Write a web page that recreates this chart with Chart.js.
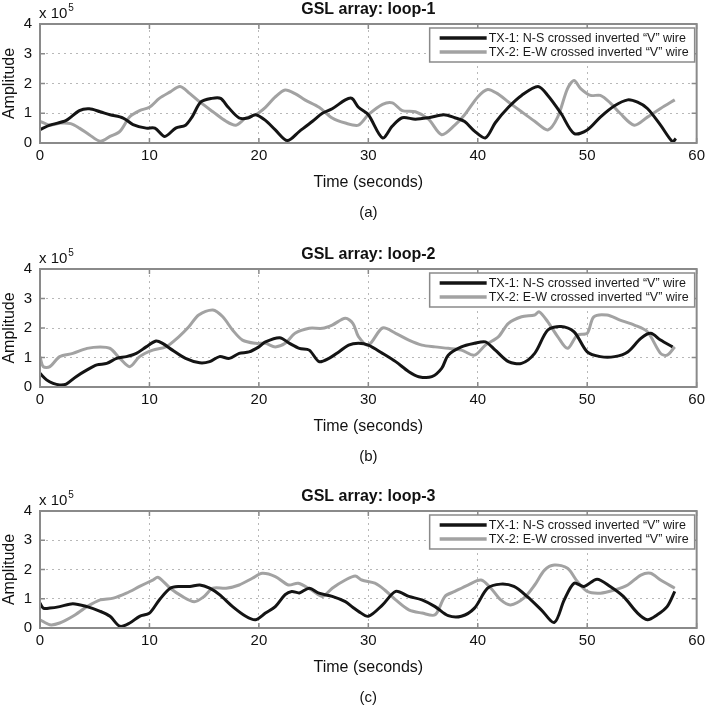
<!DOCTYPE html>
<html>
<head>
<meta charset="utf-8">
<script src="https://cdn.jsdelivr.net/npm/chart.js@4.4.0/dist/chart.umd.min.js"></script>
<style>
  html, body { margin: 0; padding: 0; background: #fff; overflow: hidden; }
  canvas { position: absolute; left: 0; }
</style>
</head>
<body>
<canvas id="loop1" width="709" height="235" style="top:0px"></canvas>
<canvas id="loop2" width="709" height="235" style="top:245px"></canvas>
<canvas id="loop3" width="709" height="219" style="top:487px"></canvas>
<script>
// Data (amplitude in units of 10^5, time in seconds)
const seriesNames = ['TX-1: N-S crossed inverted \u201cV\u201d wire', 'TX-2: E-W crossed inverted \u201cV\u201d wire'];
const xTicks = [0, 10, 20, 30, 40, 50, 60];
const yTicks = [0, 1, 2, 3, 4];

// loop-1
const loop1Tx1Time = [0, 0.9, 2.4, 3.6, 4.5, 5.5, 6.4, 7.6, 8.5, 9.7, 10.5, 11.4, 12.4, 13.3, 13.9, 14.7, 15.7, 16.5, 17.2, 18.2, 19, 19.7, 20.6, 21.5, 22.6, 23.7, 24.9, 25.8, 26.7, 27.9, 28.5, 29.1, 30, 31.3, 32.2, 33.1, 34.3, 35.5, 36.9, 37.9, 38.8, 39.7, 40.7, 41.6, 42.8, 44, 45.5, 46.4, 47.6, 48.8, 50, 51.2, 52.5, 53.7, 54.6, 55.5, 56.7, 57.8, 58.1];
const loop1Tx1 = [0.45, 0.6, 0.76, 1.09, 1.15, 1.05, 0.95, 0.84, 0.62, 0.5, 0.5, 0.22, 0.5, 0.6, 0.88, 1.38, 1.5, 1.5, 1.2, 0.84, 0.84, 0.95, 0.76, 0.44, 0.08, 0.39, 0.73, 1.0, 1.15, 1.45, 1.5, 1.2, 0.95, 0.17, 0.57, 0.85, 0.8, 0.85, 0.95, 0.85, 0.72, 0.4, 0.17, 0.68, 1.2, 1.6, 1.9, 1.6, 1.0, 0.32, 0.44, 0.87, 1.25, 1.45, 1.37, 1.16, 0.6, 0.04, 0.15];
const loop1Tx2Time = [0, 0.9, 1.9, 2.8, 3.6, 4.5, 5.5, 6.4, 7.3, 8.2, 9.1, 10, 10.9, 11.9, 12.8, 13.7, 14.6, 15.8, 17, 17.9, 18.8, 19.7, 20.6, 21.5, 22.4, 23.3, 24.2, 25.5, 26.7, 27.9, 29.1, 30, 31.3, 32.2, 33.1, 34.3, 35.5, 36.7, 37.9, 38.8, 40, 40.9, 41.8, 42.8, 44, 45.2, 46.4, 47.3, 48.2, 48.8, 49.4, 50.3, 51.2, 52.1, 53, 54.3, 55.5, 56.7, 58];
const loop1Tx2 = [0.73, 0.6, 0.67, 0.65, 0.5, 0.28, 0.06, 0.22, 0.39, 0.88, 1.09, 1.2, 1.5, 1.72, 1.9, 1.66, 1.38, 1.05, 0.73, 0.6, 0.84, 0.95, 1.2, 1.55, 1.78, 1.66, 1.45, 1.2, 0.84, 0.67, 0.6, 0.95, 1.3, 1.35, 1.09, 1.05, 0.8, 0.28, 0.6, 0.95, 1.55, 1.8, 1.66, 1.38, 1.05, 0.73, 0.44, 0.87, 1.83, 2.1, 1.83, 1.6, 1.6, 1.35, 1.0, 0.6, 0.87, 1.16, 1.45];

// loop-2
const loop2Tx1Time = [0, 0.6, 1.2, 1.8, 2.4, 3.3, 4.3, 5.2, 6.1, 7, 7.9, 8.8, 9.7, 10.6, 11.2, 12.1, 13.3, 14.6, 15.5, 16.4, 17.3, 18.2, 19.1, 20, 20.6, 21.9, 22.8, 23.7, 24.6, 25.5, 26.4, 27.3, 28.2, 29.1, 30, 31.3, 32.5, 33.7, 34.6, 35.8, 36.7, 37.3, 38.5, 39.7, 40.7, 41.6, 42.8, 44, 45.2, 46.4, 47.6, 48.8, 50, 51.2, 52.5, 53.7, 54.9, 55.8, 56.7, 57.8];
const loop2Tx1 = [0.46, 0.24, 0.12, 0.07, 0.1, 0.35, 0.58, 0.75, 0.8, 0.97, 1.03, 1.14, 1.36, 1.56, 1.48, 1.25, 0.97, 0.82, 0.86, 1.03, 0.97, 1.14, 1.19, 1.36, 1.53, 1.67, 1.48, 1.31, 1.25, 0.86, 0.97, 1.19, 1.42, 1.48, 1.42, 1.14, 0.86, 0.52, 0.35, 0.35, 0.63, 1.08, 1.36, 1.48, 1.53, 1.25, 0.86, 0.8, 1.14, 1.93, 2.05, 1.87, 1.19, 1.03, 1.03, 1.19, 1.65, 1.82, 1.59, 1.36];
const loop2Tx2Time = [0, 0.3, 0.9, 1.8, 3, 4.3, 5.5, 6.4, 7.3, 8.2, 9.1, 10.3, 11.5, 12.7, 13.6, 14.5, 15.8, 16.7, 17.6, 18.5, 19.7, 20.6, 21.5, 22.4, 23.3, 24.6, 25.8, 26.7, 27.9, 28.6, 29.1, 30, 31.3, 32.5, 33.7, 34.9, 36.1, 37.3, 38.5, 39.7, 40.7, 41.9, 42.8, 44, 45.2, 45.6, 46.4, 47.3, 48.2, 49.1, 50, 50.6, 51.8, 53, 54.3, 55.5, 56.7, 57.3, 58];
const loop2Tx2 = [1.03, 0.69, 0.69, 1.03, 1.14, 1.31, 1.36, 1.31, 0.97, 0.69, 1.03, 1.25, 1.36, 1.71, 2.04, 2.44, 2.61, 2.38, 1.93, 1.59, 1.48, 1.48, 1.36, 1.48, 1.82, 1.99, 1.99, 2.1, 2.33, 2.15, 1.71, 1.42, 2.0, 1.82, 1.59, 1.42, 1.36, 1.31, 1.25, 1.08, 1.42, 1.71, 2.16, 2.38, 2.44, 2.55, 2.21, 1.71, 1.31, 1.76, 1.82, 2.38, 2.44, 2.27, 2.1, 1.87, 1.14, 1.08, 1.36];

// loop-3
const loop3Tx1Time = [0, 0.3, 0.9, 1.8, 3, 4.3, 5.5, 6.4, 7.3, 8.2, 9.1, 10, 10.9, 11.9, 12.8, 13.7, 14.6, 15.5, 16.4, 17.6, 18.8, 19.7, 20.6, 21.5, 22.4, 23, 23.7, 24.6, 25.5, 26.7, 27.9, 28.6, 29.1, 30, 31.3, 32.5, 33.7, 34.9, 36.1, 37.3, 38.5, 39.7, 40.9, 42.1, 43.3, 44.5, 45.8, 47, 47.9, 48.8, 49.7, 50.9, 52.1, 53.3, 54.6, 55.5, 56.4, 57.3, 58];
const loop3Tx1 = [0.85, 0.68, 0.68, 0.73, 0.83, 0.73, 0.57, 0.4, 0.06, 0.17, 0.4, 0.51, 0.96, 1.36, 1.42, 1.42, 1.47, 1.36, 1.14, 0.73, 0.4, 0.28, 0.51, 0.73, 1.14, 1.25, 1.2, 1.36, 1.19, 1.08, 0.9, 0.7, 0.57, 0.4, 0.79, 1.25, 1.08, 0.96, 0.73, 0.42, 0.4, 0.68, 1.36, 1.5, 1.42, 1.08, 0.62, 0.19, 0.96, 1.53, 1.42, 1.67, 1.42, 1.08, 0.51, 0.28, 0.45, 0.73, 1.25];
const loop3Tx2Time = [0, 0.9, 1.8, 3, 4.3, 5.5, 6.7, 7.9, 9.1, 10.3, 10.8, 11.9, 13, 14.1, 15, 15.8, 17, 18.2, 19.4, 20.3, 21.5, 22.7, 23.6, 24.8, 25.8, 26.7, 27.9, 28.8, 29.4, 30.6, 31.5, 32.5, 33.7, 34.9, 36.1, 37, 37.9, 39.1, 40.3, 41.2, 42.1, 43, 44.2, 45.2, 46.1, 47, 48.2, 49.1, 50, 51.2, 52.5, 53.7, 54.9, 55.8, 56.7, 58];
const loop3Tx2 = [0.28, 0.11, 0.17, 0.4, 0.73, 0.96, 1.02, 1.19, 1.42, 1.64, 1.73, 1.36, 1.08, 0.9, 1.08, 1.36, 1.36, 1.47, 1.7, 1.87, 1.76, 1.47, 1.53, 1.3, 1.08, 1.36, 1.64, 1.78, 1.64, 1.53, 1.3, 0.96, 0.62, 0.51, 0.45, 1.08, 1.25, 1.47, 1.64, 1.36, 0.96, 0.79, 1.02, 1.47, 1.98, 2.15, 2.04, 1.59, 1.25, 1.19, 1.3, 1.47, 1.81, 1.87, 1.64, 1.36];

const FONT = '"Liberation Sans", Arial, Helvetica, sans-serif';
const FRAME = '#8a8a8a';

function toPoints(times, values) {
    return times.map((t, i) => ({ x: t, y: values[i] }));
}

// MATLAB-like frame, inner ticks, boxed legend and extra texts
const matlabFrame = {
    id: 'matlabFrame',
    afterDatasetsDraw(chart, args, opts) {
        const { ctx, chartArea: a, scales: { x, y } } = chart;
        ctx.save();
        ctx.strokeStyle = FRAME;
        ctx.lineWidth = 1.5;
        ctx.beginPath();
        x.ticks.forEach(t => {
            const px = x.getPixelForValue(t.value);
            ctx.moveTo(px, a.bottom); ctx.lineTo(px, a.bottom - 5);
            ctx.moveTo(px, a.top); ctx.lineTo(px, a.top + 5);
        });
        y.ticks.forEach(t => {
            const py = y.getPixelForValue(t.value);
            ctx.moveTo(a.left, py); ctx.lineTo(a.left + 5, py);
            ctx.moveTo(a.right, py); ctx.lineTo(a.right - 5, py);
        });
        ctx.stroke();
        ctx.lineWidth = 2;
        ctx.strokeRect(a.left, a.top, a.right - a.left, a.bottom - a.top);

        // legend box
        const bx = a.right - 267, by = a.top + 4, bw = 265, bh = 34;
        ctx.fillStyle = '#fff';
        ctx.fillRect(bx, by, bw, bh);
        ctx.lineWidth = 1.5;
        ctx.strokeStyle = FRAME;
        ctx.strokeRect(bx, by, bw, bh);
        ctx.font = '12.5px ' + FONT;
        ctx.textBaseline = 'middle';
        ctx.textAlign = 'left';
        chart.data.datasets.forEach((ds, i) => {
            const ly = by + 10 + i * 14;
            ctx.strokeStyle = ds.borderColor;
            ctx.lineWidth = 3.5;
            ctx.beginPath();
            ctx.moveTo(bx + 10, ly);
            ctx.lineTo(bx + 57, ly);
            ctx.stroke();
            ctx.fillStyle = '#1a1a1a';
            ctx.fillText(ds.label, bx + 59, ly + 0.5);
        });
        ctx.restore();
    },
    afterDraw(chart, args, opts) {
        const { ctx, chartArea: a } = chart;
        ctx.save();
        ctx.fillStyle = '#111';
        ctx.textBaseline = 'middle';
        ctx.textAlign = 'center';
        ctx.font = 'bold 16px ' + FONT;
        ctx.fillText(opts.title, (a.left + a.right) / 2, a.top - 14);
        ctx.font = '15px ' + FONT;
        ctx.fillText(opts.caption, (a.left + a.right) / 2, a.bottom + 70);
        // exponent label
        ctx.textAlign = 'left';
        ctx.textBaseline = 'alphabetic';
        ctx.font = '15px ' + FONT;
        ctx.fillText('x 10', a.left - 1, a.top - 6);
        const w = ctx.measureText('x 10').width;
        ctx.font = '10px ' + FONT;
        ctx.fillText('5', a.left - 1 + w + 1, a.top - 13);
        ctx.restore();
    }
};

function makeChart(id, title, caption, tx1Time, tx1, tx2Time, tx2, bottomPad) {
    const ctx = document.getElementById(id).getContext('2d');
    return new Chart(ctx, {
        type: 'line',
        data: {
            datasets: [{
                label: seriesNames[0],
                data: toPoints(tx1Time, tx1),
                borderColor: '#141414',
                borderWidth: 3,
                pointRadius: 0,
                tension: 0.3,
                order: 1
            }, {
                label: seriesNames[1],
                data: toPoints(tx2Time, tx2),
                borderColor: '#a2a2a2',
                borderWidth: 3,
                pointRadius: 0,
                tension: 0.3,
                order: 2
            }]
        },
        options: {
            responsive: false,
            animation: false,
            events: [],
            layout: { padding: { top: 24, left: 0, right: 9, bottom: bottomPad } },
            plugins: {
                legend: { display: false },
                tooltip: { enabled: false },
                matlabFrame: { title: title, caption: caption }
            },
            scales: {
                x: {
                    type: 'linear',
                    min: xTicks[0],
                    max: xTicks[xTicks.length - 1],
                    afterBuildTicks: s => { s.ticks = xTicks.map(v => ({ value: v })); },
                    afterFit: s => { s.height = 52; },
                    grid: { color: '#b8b8b8', lineWidth: 1, drawTicks: false },
                    border: { display: false, dash: [2, 4] },
                    ticks: { color: '#111', font: { family: FONT, size: 15 }, padding: 4, maxRotation: 0 },
                    title: { display: true, text: 'Time (seconds)', color: '#111', font: { family: FONT, size: 16 }, padding: { top: 0, bottom: 3 } }
                },
                y: {
                    min: yTicks[0],
                    max: yTicks[yTicks.length - 1],
                    afterBuildTicks: s => { s.ticks = yTicks.map(v => ({ value: v })); },
                    afterFit: s => { s.width = 40; },
                    grid: { color: '#b8b8b8', lineWidth: 1, drawTicks: false },
                    border: { display: false, dash: [2, 4] },
                    ticks: { color: '#111', font: { family: FONT, size: 15 }, padding: 8 },
                    title: { display: true, text: 'Amplitude', color: '#111', font: { family: FONT, size: 16 }, padding: 0 }
                }
            }
        },
        plugins: [matlabFrame]
    });
}

makeChart('loop1', 'GSL array: loop-1', '(a)', loop1Tx1Time, loop1Tx1, loop1Tx2Time, loop1Tx2, 40);
makeChart('loop2', 'GSL array: loop-2', '(b)', loop2Tx1Time, loop2Tx1, loop2Tx2Time, loop2Tx2, 41);
makeChart('loop3', 'GSL array: loop-3', '(c)', loop3Tx1Time, loop3Tx1, loop3Tx2Time, loop3Tx2, 26);
</script>
</body>
</html>
